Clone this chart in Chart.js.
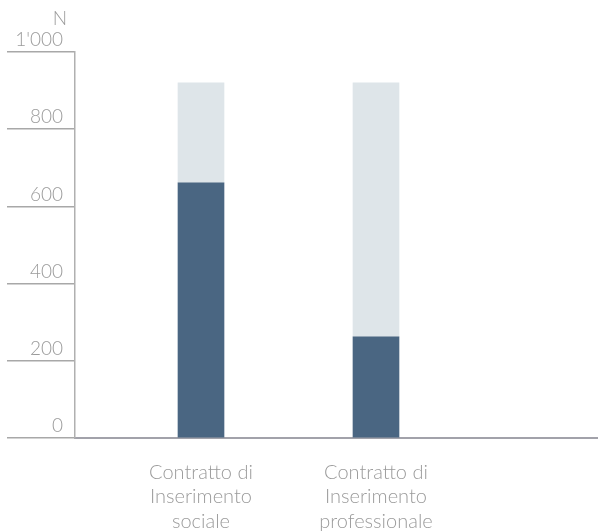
<!DOCTYPE html>
<html>
<head>
<meta charset="utf-8">
<script src="https://cdn.jsdelivr.net/npm/chart.js@4.4.1/dist/chart.umd.min.js"></script>
<style>
html,body{margin:0;padding:0;background:#fff;}
#wrap{width:598px;height:531px;position:relative;}
</style>
</head>
<body>
<div id="wrap"><canvas id="c"></canvas></div>
<script>
// Data
const categories = [
  ["Contratto di", "Inserimento", "sociale"],
  ["Contratto di", "Inserimento", "professionale"]
];
const darkValues = [661, 262];
const lightValues = [259, 658];
const yTicks = [0, 200, 400, 600, 800, 1000];
const unitLabel = "N";

const FONT = "Lato";
const TEXT = "#9b9b9b";

const unitPlugin = {
  id: "unitLabel",
  afterDraw(chart) {
    const ys = chart.scales.y;
    const ctx = chart.ctx;
    ctx.save();
    ctx.font = "300 19px " + FONT;
    ctx.fillStyle = TEXT;
    ctx.textAlign = "right";
    ctx.textBaseline = "middle";
    ctx.fillText(unitLabel, ys.right - 8, ys.getPixelForValue(1000) - 33);
    ctx.restore();
  }
};

new Chart(document.getElementById("c"), {
  type: "bar",
  data: {
    datasets: [
      { data: darkValues.map((v, i) => ({ x: i, y: v })), backgroundColor: "#4a6682", barThickness: 46 },
      { data: lightValues.map((v, i) => ({ x: i, y: v })), backgroundColor: "#dee5e9", barThickness: 46 }
    ]
  },
  options: {
    responsive: true,
    maintainAspectRatio: false,
    animation: false,
    layout: { padding: { top: 52, left: 0, right: 0, bottom: 0 } },
    plugins: { legend: { display: false }, tooltip: { enabled: false } },
    scales: {
      x: {
        type: "linear",
        stacked: true,
        offset: false,
        bounds: "data",
        min: -0.72,
        max: 2.2686,
        afterBuildTicks: (s) => { s.ticks = categories.map((c, i) => ({ value: i })); },
        grid: { display: false, drawTicks: false },
        border: { display: true, color: "#a2a2aa", width: 2 },
        ticks: {
          autoSkip: false,
          maxRotation: 0,
          padding: 22,
          color: TEXT,
          font: { family: FONT, size: 20, weight: 300, lineHeight: 1.23 },
          callback: (v) => categories[v]
        },
        afterFit: (s) => { s.height = 93; }
      },
      y: {
        stacked: true,
        min: 0,
        max: 1000,
        afterBuildTicks: (s) => { s.ticks = yTicks.map(v => ({ value: v })); },
        grid: { drawOnChartArea: false, drawTicks: true, tickLength: 68, color: "#a8a8a8", lineWidth: 1.5 },
        border: { display: true, color: "#b0b0b0", width: 1.5 },
        ticks: {
          padding: -56,
          labelOffset: -12,
          color: TEXT,
          font: { family: FONT, size: 19, weight: 300 },
          callback: (v) => v === 1000 ? "1'000" : String(v)
        },
        afterFit: (s) => { s.width = 75; }
      }
    }
  },
  plugins: [unitPlugin]
});
</script>
</body>
</html>
